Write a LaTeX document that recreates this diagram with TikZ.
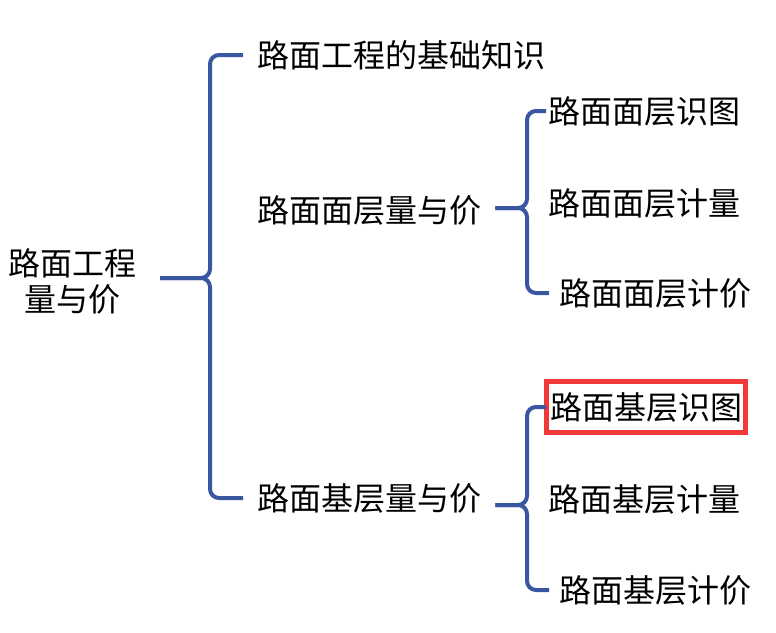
\documentclass[tikz,border=0pt]{standalone}
\usepackage{fontspec}
\setmainfont{Noto Sans CJK SC}
\usetikzlibrary{positioning}
\definecolor{braceblue}{RGB}{56,87,160}
\definecolor{hlred}{RGB}{240,56,56}
\begin{document}
\begin{tikzpicture}[x=1pt,y=-1pt,
  lbl/.style={anchor=west, inner sep=0pt, font=\fontsize{32}{36}\selectfont},
  hilite/.style={draw=hlred, line width=5pt, inner xsep=3.5pt, inner ysep=11pt},
  brace/.style={draw=braceblue, line width=4pt, rounded corners=9pt}]
\useasboundingbox (0,0) rectangle (776,632);
% text
\node[lbl, anchor=center, align=center] (root) at (73,281) {路面工程\\量与价};
\node[lbl] (basis) at (257,55) {路面工程的基础知识};
\node[lbl] (surf) at (257,210) {路面面层量与价};
\node[lbl] (base) at (257,498) {路面基层量与价};
\node[lbl] (surfA) at (548,111) {路面面层识图};
\node[lbl] (surfB) at (548,203) {路面面层计量};
\node[lbl] (surfC) at (559,293) {路面面层计价};
\node[lbl, hilite] (baseA) at (544,407) {路面基层识图};
\node[lbl] (baseB) at (548,499) {路面基层计量};
\node[lbl] (baseC) at (559,590) {路面基层计价};
% braces
\coordinate (bx1) at (210,278);
\coordinate (bx2) at (527,208);
\coordinate (bx3) at (527,505);
\draw[brace] (160,278) -- (bx1) -- (bx1 |- basis.west) -- ([xshift=-14pt]basis.west);
\draw[brace] (160,278) -- (bx1) -- (bx1 |- base.west) -- ([xshift=-14pt]base.west);
\draw[brace] ([xshift=14pt]surf.east |- bx2) -- (bx2) -- (bx2 |- surfA.west) -- ([xshift=-2pt]surfA.west);
\draw[brace] ([xshift=14pt]surf.east |- bx2) -- (bx2) -- (bx2 |- surfC.west) -- ([xshift=-10pt]surfC.west);
\draw[brace] ([xshift=14pt]base.east |- bx3) -- (bx3) -- (bx3 |- baseA.west) -- ([xshift=2pt]baseA.west);
\draw[brace] ([xshift=14pt]base.east |- bx3) -- (bx3) -- (bx3 |- baseC.west) -- ([xshift=-10pt]baseC.west);
\end{tikzpicture}
\end{document}
